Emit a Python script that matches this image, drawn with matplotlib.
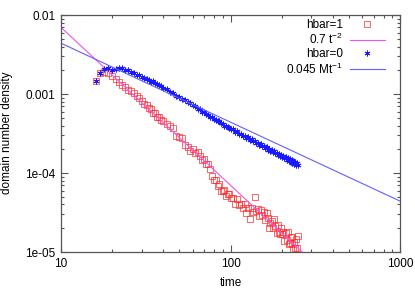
import numpy as np
import matplotlib
matplotlib.use('Agg')
import matplotlib.pyplot as plt
from matplotlib.ticker import LogLocator, FixedLocator, FixedFormatter, NullFormatter

plt.rcParams['font.family'] = ['Liberation Sans', 'DejaVu Sans']
plt.rcParams['mathtext.default'] = 'regular'

# sampling times
t = [16, 17, 18, 19, 20, 21, 22, 23, 24, 25, 26, 27, 28, 29, 30, 31, 32, 33, 34, 35,
     36, 37, 38, 39, 40,
     42, 44, 46, 48, 50, 52, 54, 56, 58, 60, 62, 64, 66, 68, 70, 72, 74, 76, 78, 80,
     82, 84, 86, 88, 90, 92, 94, 96, 98, 100,
     103, 106, 109, 112, 115, 118, 121, 124, 127, 130, 133, 136, 139, 142, 145, 148,
     151, 154, 157, 160, 163, 166, 169, 172, 175, 178, 181, 184, 187, 190, 193, 196,
     199, 202, 205, 208, 211, 214, 217, 220, 223, 226, 229, 232, 235, 238, 241, 244,
     247, 250]

# hbar=1 (red squares)
hbar1 = [1.46e-3, 1.86e-3, 1.92e-3, 1.84e-3, 1.68e-3, 1.56e-3, 1.42e-3, 1.32e-3, 1.24e-3, 1.14e-3,
         1.08e-3, 1.02e-3, 0.95e-3, 0.88e-3, 0.82e-3, 0.76e-3, 0.73e-3, 0.66e-3, 0.64e-3, 0.58e-3,
         0.57e-3, 0.52e-3, 0.51e-3, 0.47e-3, 0.46e-3,
         4.17e-4, 3.91e-4, 3.71e-4, 2.98e-4, 2.86e-4, 2.75e-4, 2.26e-4, 2.16e-4, 1.93e-4, 2.02e-4,
         1.80e-4, 1.85e-4, 1.64e-4, 1.45e-4, 1.50e-4, 1.32e-4, 1.29e-4, 1.11e-4, 9.2e-5, 8.1e-5,
         8.1e-5, 6.9e-5, 7.2e-5, 6.0e-5, 5.9e-5, 6.1e-5, 5.1e-5, 5.4e-5, 5.5e-5, 4.8e-5,
         4.9e-5, 4.1e-5, 4.7e-5, 3.9e-5, 4.1e-5, 3.6e-5, 4.1e-5, 3.1e-5, 3.6e-5, 2.6e-5,
         3.56e-5, 3.18e-5, 5.0e-5, 3.30e-5, 3.50e-5, 2.82e-5, 3.38e-5, 2.95e-5, 3.18e-5, 2.54e-5,
         3.10e-5, 2.67e-5, 2.01e-5, 2.30e-5, 2.47e-5, 1.99e-5, 2.61e-5, 2.11e-5, 1.72e-5, 2.17e-5,
         1.79e-5, 1.67e-5, 2.04e-5, 1.69e-5, 1.77e-5, 1.38e-5, 1.73e-5, 1.42e-5, 1.79e-5, 1.28e-5,
         1.30e-5, 1.53e-5, 1.28e-5, 1.53e-5, 1.09e-5, 1.34e-5, 1.14e-5, 1.48e-5, 1.12e-5, 1.60e-5]

# hbar=0 (blue stars)
hbar0 = [1.46e-3, 1.85e-3, 2.05e-3, 2.12e-3, 2.01e-3, 2.08e-3, 2.14e-3, 2.16e-3, 2.04e-3, 2.00e-3,
         1.93e-3, 1.86e-3, 1.74e-3, 1.72e-3, 1.65e-3, 1.62e-3, 1.55e-3, 1.52e-3, 1.44e-3, 1.45e-3,
         1.37e-3, 1.35e-3, 1.29e-3, 1.27e-3, 1.21e-3,
         1.17e-3, 1.07e-3, 1.04e-3, 0.95e-3, 0.92e-3, 0.86e-3, 0.84e-3, 0.79e-3, 0.77e-3, 0.72e-3,
         0.70e-3, 0.65e-3, 0.64e-3, 0.60e-3, 0.59e-3, 0.56e-3, 0.55e-3, 0.515e-3, 0.51e-3, 0.485e-3,
         0.475e-3, 0.455e-3, 0.45e-3, 0.425e-3, 0.42e-3, 0.40e-3, 0.398e-3, 0.38e-3, 0.373e-3, 0.357e-3,
         3.58e-4, 3.34e-4, 3.36e-4, 3.14e-4, 3.16e-4, 2.95e-4, 2.97e-4, 2.80e-4, 2.82e-4, 2.64e-4,
         2.68e-4, 2.51e-4, 2.54e-4, 2.40e-4, 2.43e-4, 2.28e-4, 2.32e-4, 2.18e-4, 2.22e-4, 2.08e-4,
         2.13e-4, 1.98e-4, 2.04e-4, 1.91e-4, 1.96e-4, 1.85e-4, 1.89e-4, 1.78e-4, 1.82e-4, 1.70e-4,
         1.76e-4, 1.64e-4, 1.70e-4, 1.58e-4, 1.64e-4, 1.53e-4, 1.59e-4, 1.48e-4, 1.54e-4, 1.43e-4,
         1.50e-4, 1.40e-4, 1.45e-4, 1.35e-4, 1.41e-4, 1.31e-4, 1.37e-4, 1.28e-4, 1.33e-4, 1.25e-4]

# fit parameters
A2 = 0.7      # 0.7 t^-2
B1 = 0.045    # 0.045 M t^-1
M = 0.98

xticks = [10, 100, 1000]
xticklabels = ['10', '100', '1000']
yticks = [1e-5, 1e-4, 1e-3, 1e-2]
yticklabels = ['1e-05', '1e-04', '0.001', '0.01']

fig = plt.figure(figsize=(4.15, 2.91), dpi=100)
ax = fig.add_axes([0.147, 0.134, 0.817, 0.814])
ax.set_xscale('log')
ax.set_yscale('log')

tl = np.logspace(1, 3, 300)
ax.plot(t, hbar1, ls='none', marker='s', ms=3.8, mfc='none', mec='#ff2a2a', mew=0.5, label='hbar=1')
ax.plot(tl, A2 * tl**-2.0, color='#ee55ee', lw=0.8, label='0.7 t$^{-2}$')
ax.plot(t, hbar0, ls='none', marker=(6, 2, 0), ms=4.2, mec='#1a1aff', mew=0.6, label='hbar=0')
ax.plot(tl, B1 * M / tl, color='#6060ff', lw=0.8, label='0.045 Mt$^{-1}$')

ax.set_xlim(10, 1000)
ax.set_ylim(1e-5, 1e-2)
ax.xaxis.set_major_locator(FixedLocator(xticks))
ax.xaxis.set_major_formatter(FixedFormatter(xticklabels))
ax.yaxis.set_major_locator(FixedLocator(yticks))
ax.yaxis.set_major_formatter(FixedFormatter(yticklabels))
ax.xaxis.set_minor_locator(LogLocator(base=10, subs=np.arange(2, 10)))
ax.yaxis.set_minor_locator(LogLocator(base=10, subs=np.arange(2, 10)))
ax.xaxis.set_minor_formatter(NullFormatter())
ax.yaxis.set_minor_formatter(NullFormatter())

ax.tick_params(which='both', direction='in', top=True, right=True, color='#555555',
               labelsize=8.5, width=0.8)
ax.tick_params(which='major', length=5, pad=4)
ax.tick_params(which='minor', length=2.5)
for s in ax.spines.values():
    s.set_color('#555555')
    s.set_linewidth(0.9)

fig.text(231 / 415, 1 - 283 / 291, 'time', ha='center', va='center', fontsize=8.5)
fig.text(7 / 415, 1 - 133 / 291, 'domain number density', ha='center', va='center',
         rotation=90, fontsize=8.5)

ax.legend(loc='upper right', bbox_to_anchor=(0.956, 0.985), frameon=False, markerfirst=False,
          fontsize=8.5, handlelength=3.0, handletextpad=0.6, labelspacing=0.1,
          borderpad=0, borderaxespad=0)

fig.savefig('out.png', dpi=100)
